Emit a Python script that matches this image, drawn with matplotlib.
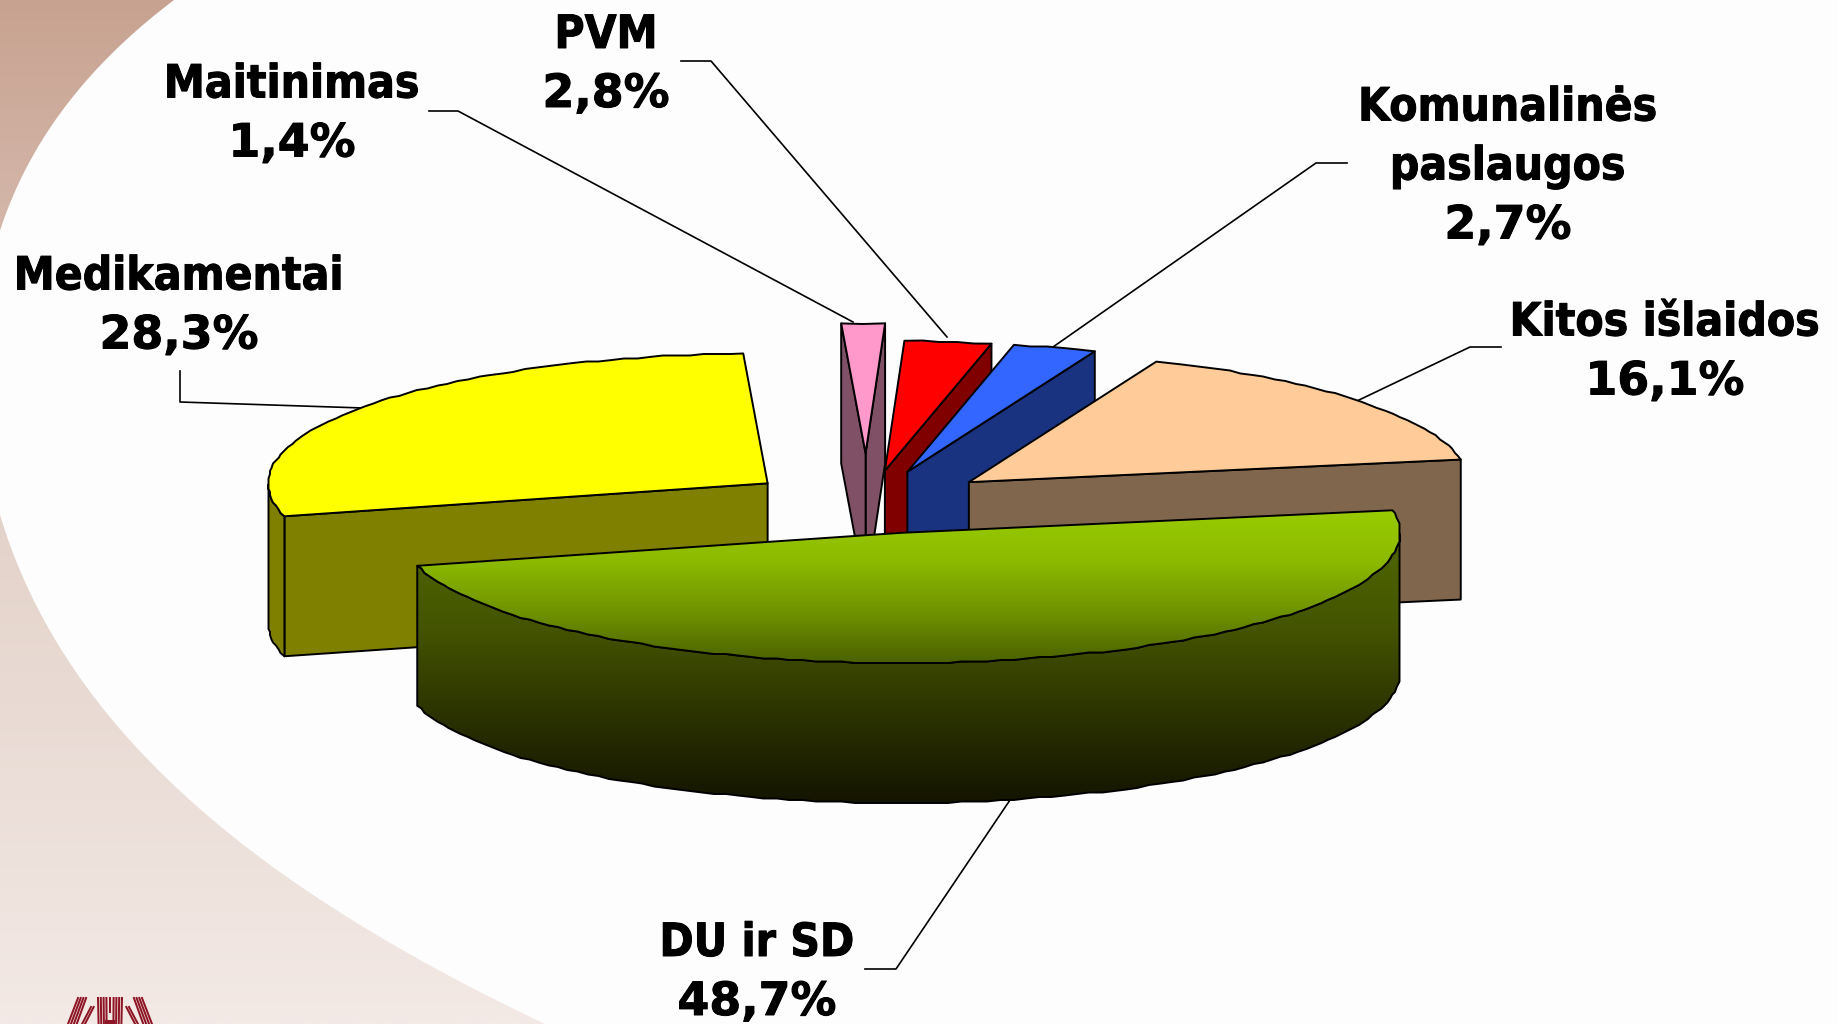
import numpy as np
import matplotlib
matplotlib.use('Agg')
import matplotlib.pyplot as plt
import matplotlib.patheffects as pe
from matplotlib.colors import LinearSegmentedColormap
from matplotlib.patches import Polygon

plt.rcParams['font.family'] = ['DejaVu Sans']

# chart data, counter-clockwise from the right edge of the green slice
labels = ['Kitos išlaidos', 'Komunalinės\npaslaugos', 'PVM', 'Maitinimas', 'Medikamentai', 'DU ir SD']
shares = [16.1, 2.7, 2.8, 1.4, 28.3, 48.7]

# slice styles
top_colors = ['#FFCC99', '#3366FF', '#FF0000', '#FF99CC', '#FFFF00', '#99CC00']
side_colors = ['#80664D', '#1A3380', '#800000', '#805066', '#808000', '#4F6600']
explode = [0.243, 0.243, 0.243, 0.375, 0.243, 0.243]
nudge_x = [0, -3, -5, -8, -9, 0]
draw_order = [3, 2, 1, 0, 4, 5]

# label styles: centre x, first baseline y, leader line
label_x = [1665, 1508, 606, 292, 179, 757]
label_y = [335.5, 120.5, 48, 97.5, 289.5, 956]
leader_x = [[1501, 1470, 1359], [1347, 1316, 1053], [681, 711, 947],
            [429, 458, 853], [180, 180, 363], [865, 896, 1010]]
leader_y = [[347, 347, 400], [163, 163, 347], [61, 61, 337],
            [111, 111, 322], [371, 402, 408], [969, 969, 800]]

# pie geometry in pixels
cx, cy = 874.5, 502
a, b, depth = 499.5, 130, 140
start_angle = 10

# white panel edge on the background
edge_y = [0, 63, 130, 187, 233, 527, 597, 714, 821, 901, 948, 1024]
edge_x = [175, 100, 50, 17, 0, 0, 36, 107, 214, 321, 400, 545]

fig = plt.figure(figsize=(18.37, 10.24), dpi=100, facecolor='#FDFDFD')
ax = fig.add_axes([0, 0, 1, 1])
ax.set_axis_off()


def gradient(stops, y0, y1, clip, x0=0, x1=1837, z=1):
    cmap = LinearSegmentedColormap.from_list('g', stops)
    grad = np.linspace(0, 1, 512).reshape(-1, 1)
    im = ax.imshow(grad, cmap=cmap, extent=[x0, x1, y1, y0], aspect='auto', zorder=z, interpolation='bilinear')
    im.set_clip_path(clip)


def rough(v):
    # the outline of the original is snapped to a coarse grid
    w = np.round(v / 1.5) * 1.5
    w[0], w[-1] = v[0], v[-1]
    return w


# background
ys = np.linspace(0, 1024, 300)
coef = np.polyfit(edge_y, edge_x, 5)
xs = np.polyval(coef, ys)
bg = Polygon(np.r_[np.c_[xs, ys], [[-200, 1024], [-200, 0]]], closed=True, transform=ax.transData, fc='none', ec='none')
ax.add_patch(bg)
gradient(['#C8A291', '#E3D2C9', '#F3E9E5'], 0, 1024, bg, x0=-200, x1=700, z=1)

# logo at the bottom, cut by the page edge
logo = '#8E1525'
lw_logo = 1.45
for i in range(4):
    ax.plot([78 + i * 2.7, 68 + i * 2.9], [998, 1024], color=logo, lw=lw_logo, zorder=2)
    ax.plot([142 - i * 2.7, 152 - i * 2.9], [998, 1024], color=logo, lw=lw_logo, zorder=2)
for i in range(2):
    ax.plot([91 + i * 2.7, 82 + i * 2.9], [1007, 1024], color=logo, lw=lw_logo, zorder=2)
    ax.plot([129 - i * 2.7, 138 - i * 2.9], [1007, 1024], color=logo, lw=lw_logo, zorder=2)
for x in [98, 100.8, 103.6, 106.4, 113.6, 116.4, 119.2, 122]:
    ax.plot([x, x + (x - 110) * -0.05], [998, 1024], color=logo, lw=lw_logo, zorder=2)
ax.plot([110, 110], [998, 1012], color=logo, lw=lw_logo, zorder=2)
ax.fill_between([105, 115], 1020, 1024, color=logo, lw=0, zorder=2)

edge = dict(ec='black', lw=1.4, joinstyle='round')

# angles from the shares
spans = np.array(shares) / sum(shares) * 360
t0s = start_angle + np.r_[0, np.cumsum(spans)[:-1]]
t1s = t0s + spans

for n, i in enumerate(draw_order):
    t0, t1 = t0s[i], t1s[i]
    mid = np.radians((t0 + t1) / 2)
    ox = cx + explode[i] * a * np.cos(mid) + nudge_x[i]
    oy = cy - explode[i] * b * np.sin(mid)
    z = 10 + n * 5

    t = np.radians(np.linspace(t0, t1, max(int(spans[i] / 1.5), 3)))
    arc = np.c_[rough(ox + a * np.cos(t)), rough(oy - b * np.sin(t))]
    top = np.r_[[[ox, oy]], arc]

    # radial walls that face the viewer
    for ang, visible in [(t0, np.cos(np.radians(t0)) > 0), (t1, np.cos(np.radians(t1)) < 0)]:
        if visible:
            px = ox + a * np.cos(np.radians(ang))
            py = oy - b * np.sin(np.radians(ang))
            ax.add_patch(Polygon([[ox, oy], [px, py], [px, py + depth], [ox, oy + depth]], fc=side_colors[i], zorder=z, **edge))

    # outer wall, front half only
    front = (np.degrees(t) >= 180) & (np.degrees(t) <= 360)
    wall = None
    if front.sum() > 1:
        wall = np.r_[arc[front], (arc[front] + [0, depth])[::-1]]

    if labels[i] == 'DU ir SD':
        wp = Polygon(wall, fc='none', ec='none', zorder=z)
        ax.add_patch(wp)
        gradient(['#4F6600', '#445400', '#2B3200', '#141400'], 540, 804, wp, z=z + 0.1)
        ax.add_patch(Polygon(wall, fc='none', zorder=z + 0.2, **edge))
        tp = Polygon(top, fc='none', ec='none', zorder=z + 1)
        ax.add_patch(tp)
        gradient(['#99CC00', '#8CBA00', '#6F9200', '#4A6000'], 510, 664, tp, z=z + 1.1)
        ax.add_patch(Polygon(top, fc='none', zorder=z + 1.2, **edge))
    else:
        if wall is not None:
            ax.add_patch(Polygon(wall, fc=side_colors[i], zorder=z, **edge))
        ax.add_patch(Polygon(top, fc=top_colors[i], zorder=z + 1, **edge))

# labels and leader lines
heavier = [pe.withStroke(linewidth=0.7, foreground='black')]
pitch = 59
for i, name in enumerate(labels):
    value = f'{shares[i]:.1f}'.replace('.', ',') + '%'
    lines = name.split('\n')
    for k, line in enumerate(lines):
        ax.text(label_x[i], label_y[i] + k * pitch, line, ha='center', va='baseline', fontsize=33,
                fontweight='bold', fontstretch='condensed', color='black', zorder=60, path_effects=heavier)
    ax.text(label_x[i], label_y[i] + len(lines) * pitch, value, ha='center', va='baseline', fontsize=33,
            fontweight='bold', color='black', zorder=60, path_effects=heavier)
    ax.plot(leader_x[i], leader_y[i], color='black', lw=1.2, zorder=5 if i != 5 else 50)

ax.set_xlim(0, 1837)
ax.set_ylim(1024, 0)
fig.savefig('out.png', dpi=100)
